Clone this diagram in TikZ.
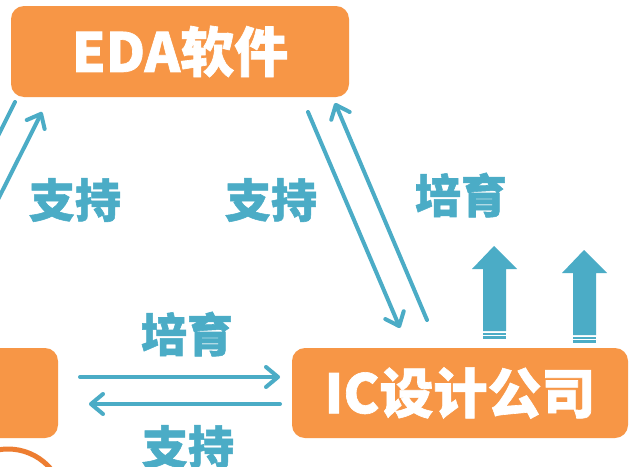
\documentclass[tikz,border=0pt]{standalone}
\usepackage{fontspec}
\newfontfamily\cjk{Noto Sans CJK SC}[BoldFeatures={FakeBold=1.2}]
\usetikzlibrary{arrows.meta}
\definecolor{boxorange}{HTML}{F79646}
\definecolor{ringorange}{HTML}{ED7D31}
\definecolor{linkblue}{HTML}{4BACC6}
\tikzset{
  box/.style={fill=boxorange, rounded corners=13pt, inner sep=0pt, text=white,
    font=\cjk\bfseries\fontsize{54}{60}\selectfont},
  lbl/.style={text=linkblue, inner sep=0pt, font=\cjk\bfseries\fontsize{46}{50}\selectfont},
  conn/.style={draw=linkblue, line width=4pt, line cap=round,
    -{Straight Barb[length=12pt,width=20pt,round]}},
  uparrow/.style={fill=linkblue, draw=none},
}
\begin{document}
\begin{tikzpicture}[x=1pt,y=-1pt]
\useasboundingbox (0,0) rectangle (629,466);
\clip (0,0) rectangle (629,466);
\fill[white] (0,0) rectangle (629,466);

% boxes
\node[box, minimum width=338pt, minimum height=91pt] (eda) at (180,51.5) {EDA软件};
\node[box, minimum width=336pt, minimum height=90pt] (ic) at (460,393) {IC设计公司};
\node[box, minimum width=200pt, minimum height=90pt] (left) at (-42,393) {};
\node[draw=ringorange, line width=5pt, circle, minimum size=112pt, inner sep=0pt] (ring) at (8,505) {};

% diagonal connectors (left pair, partly outside)
\coordinate (l1a) at (15,102);
\coordinate (l1b) at (-45,222);
\coordinate (l2a) at (-40,275);
\coordinate (l2b) at (42,112);
\draw[conn] (l1a) -- (l1b);
\draw[conn] (l2a) -- (l2b);

% middle pair
\coordinate (m1a) at (308,112);
\coordinate (m1b) at (400,328);
\coordinate (m2a) at (427,320);
\coordinate (m2b) at (335,103);
\draw[conn] (m1a) -- (m1b);
\draw[conn] (m2a) -- (m2b);

% horizontal pair
\coordinate (h1a) at (80,377);
\coordinate (h1b) at (280,377);
\coordinate (h2a) at (280,404);
\coordinate (h2b) at (89,404);
\draw[conn] (h1a) -- (h1b);
\draw[conn] (h2a) -- (h2b);

% labels
\node[lbl] (s1) at (75,200) {支持};
\node[lbl] (s2) at (271,200) {支持};
\node[lbl] (p1) at (461,195) {培育};
\node[lbl] (p2) at (187,334) {培育};
\node[lbl] (s3) at (188,447) {支持};

% up arrows
\fill[uparrow] (494,246) -- (517,269) -- (506,269) -- (506,331) -- (483,331) -- (483,269) -- (472,269) -- cycle;
\fill[uparrow] (483,332.6) rectangle (506,334.8);
\fill[uparrow] (483,336.4) rectangle (506,338.8);
\fill[uparrow] (584,250) -- (607,273) -- (596,273) -- (596,335) -- (573,335) -- (573,273) -- (562,273) -- cycle;
\fill[uparrow] (573,336.6) rectangle (596,338.8);
\fill[uparrow] (573,340.4) rectangle (596,342.8);
\end{tikzpicture}
\end{document}
